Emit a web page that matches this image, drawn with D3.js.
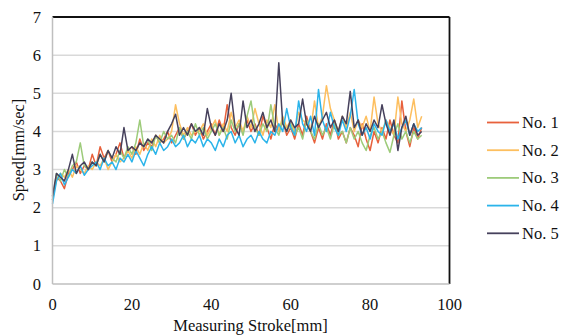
<!DOCTYPE html>
<html>
<head>
    <meta charset="utf-8">
    <title>Speed vs Measuring Stroke</title>
    <script src="https://d3js.org/d3.v7.min.js"></script>
    <style>
        body { margin: 0; background: #fff; overflow: hidden; }
        text { font-family: "Liberation Serif", "Times New Roman", serif; fill: #111; }
    </style>
</head>
<body>
<div id="chart"></div>
<script>
// values, one sample per mm of stroke
const stroke = d3.range(0, 94);

const no1 = [2.2, 2.8, 2.7, 2.5, 2.9, 3.0, 3.2, 2.9, 3.1, 3.0,
    3.4, 3.1, 3.6, 3.3, 3.5, 3.2, 3.4, 3.7, 3.3, 3.5,
    3.6, 3.4, 3.8, 3.5, 3.7, 3.6, 3.9, 3.7, 3.8, 4.0,
    3.7, 3.9, 4.1, 3.8, 4.0, 4.2, 3.9, 4.1, 3.8, 4.0,
    4.2, 3.9, 4.3, 4.0, 4.7, 4.1, 3.9, 4.2, 4.0, 4.3,
    4.0, 4.2, 3.9, 4.4, 4.1, 3.8, 4.2, 4.0, 4.3, 3.9,
    4.1, 3.8, 4.2, 3.9, 4.4, 4.0, 3.7, 4.1, 3.8, 4.2,
    3.9, 4.3, 3.8, 4.0, 3.7, 4.1, 3.9, 3.6, 4.2, 3.8,
    3.5, 4.0, 3.7, 4.1, 3.8, 4.3, 3.9, 3.7, 4.8, 4.0,
    3.6, 4.1, 3.8, 4.1];

const no2 = [2.3, 2.7, 2.9, 2.8, 3.0, 2.8, 3.1, 3.0, 2.9, 3.1,
    3.0, 3.2, 3.1, 3.3, 3.0, 3.2, 3.4, 3.2, 3.3, 3.5,
    3.3, 3.6, 3.4, 3.7, 3.5, 3.8, 3.6, 3.9, 3.7, 3.8,
    4.0, 4.7, 4.2, 3.9, 4.1, 3.9, 4.0, 4.0, 4.2, 3.9,
    4.1, 4.3, 3.9, 4.2, 4.0, 4.5, 4.1, 4.3, 4.0, 4.4,
    4.1, 4.6, 4.2, 3.9, 4.3, 4.1, 4.7, 4.0, 4.4, 4.1,
    4.3, 4.0, 4.5, 4.3, 4.2, 4.0, 4.8, 4.1, 4.4, 5.2,
    4.6, 4.3, 4.0, 4.4, 4.1, 4.5, 4.0, 4.3, 4.1, 4.4,
    4.0, 4.9, 4.2, 4.0, 4.3, 4.1, 3.9, 4.9, 4.2, 4.0,
    4.3, 4.85, 4.1, 4.4];

const no3 = [2.2, 2.9, 2.7, 3.0, 2.8, 3.1, 3.2, 3.7, 3.1, 3.0,
    3.2, 3.1, 3.4, 3.2, 3.5, 3.3, 3.2, 3.5, 3.3, 3.6,
    3.4, 3.7, 4.3, 3.6, 3.8, 3.5, 3.9, 3.7, 4.0, 3.8,
    3.9, 3.7, 4.1, 3.8, 4.0, 3.8, 4.2, 3.9, 4.1, 3.8,
    4.0, 4.2, 3.9, 4.1, 3.8, 4.3, 4.0, 4.2, 3.9, 4.4,
    4.8, 4.1, 3.9, 4.2, 4.0, 4.7, 4.1, 3.9, 4.3, 4.0,
    4.2, 3.9, 4.1, 3.8, 4.3, 4.0, 3.8, 4.2, 3.9, 4.1,
    3.8, 4.2, 3.9, 4.0, 3.7, 4.1, 3.8, 4.0, 3.7, 3.5,
    3.9, 4.1, 3.8, 4.0, 3.7, 3.45, 3.9, 4.2, 3.8, 4.0,
    3.7, 4.0, 3.8, 3.9];

const no4 = [2.1, 2.7, 2.9, 2.6, 2.8, 3.0, 2.9, 3.1, 2.85, 3.0,
    3.1, 3.2, 3.0, 3.3, 3.1, 3.2, 3.0, 3.3, 3.2, 3.4,
    3.2, 3.5, 3.3, 3.1, 3.4, 3.6, 3.4, 3.7, 3.5, 3.6,
    3.8, 3.6, 3.7, 3.9, 3.6, 3.8, 3.7, 3.9, 3.6, 3.8,
    3.7, 3.5, 3.8, 3.6, 3.9, 4.0, 3.7, 3.9, 3.6, 3.8,
    3.9, 3.7, 4.0, 3.8, 3.7, 4.0, 3.9, 4.2, 4.0, 4.6,
    4.1, 3.9, 4.8, 4.2, 4.0, 4.4, 3.9, 5.1, 4.3, 4.0,
    4.5, 4.1, 3.9, 4.3, 4.0, 4.4, 5.1, 4.2, 3.9, 4.1,
    3.8, 4.2, 4.0, 3.9, 4.3, 4.0, 4.2, 3.8, 4.1, 4.3,
    3.9, 4.2, 4.0, 4.1];

const no5 = [2.3, 2.9, 2.8, 2.7, 3.0, 3.4, 2.9, 3.1, 3.2, 3.0,
    3.2, 3.1, 3.4, 3.2, 3.5, 3.3, 3.6, 3.4, 4.1, 3.5,
    3.6, 3.5, 3.7, 3.6, 3.8, 3.7, 3.9, 3.8, 3.7, 4.0,
    4.2, 4.45, 3.9, 4.1, 3.9, 4.2, 4.0, 4.1, 3.9, 4.6,
    4.1, 3.9, 4.2, 4.0, 4.3, 5.0, 4.1, 3.9, 4.8, 4.1,
    4.3, 4.0, 4.2, 4.5, 4.1, 4.3, 4.0, 5.8, 4.2, 4.0,
    4.3, 4.1, 4.2, 4.85, 4.2, 4.0, 4.4, 4.1, 4.3, 4.5,
    4.1, 4.3, 4.0, 4.4, 4.2, 5.05, 4.1, 4.3, 3.9, 4.2,
    4.0, 4.3, 4.1, 4.7, 4.2, 3.9, 4.3, 3.5, 4.1, 4.4,
    3.9, 4.2, 3.9, 4.0];

const seriesNames = ["No. 1", "No. 2", "No. 3", "No. 4", "No. 5"];
const seriesValues = [no1, no2, no3, no4, no5];
const seriesColors = ["#e8613c", "#fdbf5f", "#9dcb7a", "#2bb4ea", "#46415c"];

const xTicks = [0, 20, 40, 60, 80, 100];
const yTicks = [0, 1, 2, 3, 4, 5, 6, 7];

const width = 563, height = 336;
const plotLeft = 52.5, plotRight = 449.5, plotTop = 17, plotBottom = 284;
const fontSize = 16.5;

const x = d3.scaleLinear().domain([0, 100]).range([plotLeft, plotRight]);
const y = d3.scaleLinear().domain([0, 7]).range([plotBottom, plotTop]);

const svg = d3.select("#chart").append("svg")
    .attr("width", width)
    .attr("height", height);

// horizontal gridlines
svg.append("g")
    .selectAll("line")
    .data(yTicks.filter(t => t > 0 && t < 7))
    .enter().append("line")
    .attr("x1", plotLeft).attr("x2", plotRight)
    .attr("y1", d => y(d)).attr("y2", d => y(d))
    .attr("stroke", "#d9d9d9")
    .attr("stroke-width", 1.5);

const line = d3.line()
    .x((d, i) => x(stroke[i]))
    .y(d => y(d));

svg.append("g")
    .selectAll("path")
    .data(seriesValues)
    .enter().append("path")
    .attr("d", d => line(d))
    .attr("fill", "none")
    .attr("stroke", (d, i) => seriesColors[i])
    .attr("stroke-width", 1.5)
    .attr("stroke-linejoin", "round");

// frame: top and right in black, axis lines in gray
svg.append("line")
    .attr("x1", plotLeft).attr("x2", plotRight).attr("y1", plotTop).attr("y2", plotTop)
    .attr("stroke", "#111").attr("stroke-width", 1.8);
svg.append("line")
    .attr("x1", plotRight).attr("x2", plotRight).attr("y1", plotTop).attr("y2", plotBottom)
    .attr("stroke", "#111").attr("stroke-width", 1.8);
svg.append("line")
    .attr("x1", plotLeft).attr("x2", plotLeft).attr("y1", plotTop).attr("y2", plotBottom)
    .attr("stroke", "#bfbfbf").attr("stroke-width", 1.5);
svg.append("line")
    .attr("x1", plotLeft).attr("x2", plotRight).attr("y1", plotBottom).attr("y2", plotBottom)
    .attr("stroke", "#bfbfbf").attr("stroke-width", 1.5);

// tick labels
svg.append("g")
    .selectAll("text")
    .data(yTicks)
    .enter().append("text")
    .attr("x", 41)
    .attr("y", d => y(d) + 5.5)
    .attr("text-anchor", "end")
    .attr("font-size", fontSize)
    .text(d => d);

svg.append("g")
    .selectAll("text")
    .data(xTicks)
    .enter().append("text")
    .attr("x", d => x(d))
    .attr("y", 309.5)
    .attr("text-anchor", "middle")
    .attr("font-size", fontSize)
    .text(d => d);

// axis titles
svg.append("text")
    .attr("transform", "translate(24,150) rotate(-90)")
    .attr("text-anchor", "middle")
    .attr("font-size", fontSize)
    .text("Speed[mm/sec]");

svg.append("text")
    .attr("x", 250.5)
    .attr("y", 331)
    .attr("text-anchor", "middle")
    .attr("font-size", fontSize)
    .text("Measuring Stroke[mm]");

// legend
const legend = svg.append("g")
    .selectAll("g")
    .data(seriesNames)
    .enter().append("g")
    .attr("transform", (d, i) => `translate(487,${122.5 + i * 27.7})`);

legend.append("line")
    .attr("x1", 0).attr("x2", 32)
    .attr("stroke", (d, i) => seriesColors[i])
    .attr("stroke-width", 1.8);

legend.append("text")
    .attr("x", 35)
    .attr("y", 5.5)
    .attr("font-size", fontSize)
    .text(d => d);
</script>
</body>
</html>
